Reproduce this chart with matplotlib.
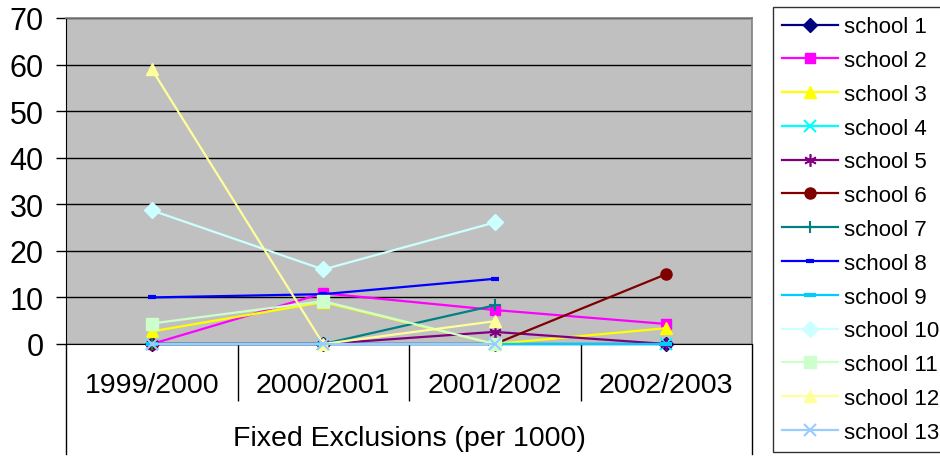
import numpy as np
import matplotlib
matplotlib.use("Agg")
import matplotlib.pyplot as plt
from matplotlib.lines import Line2D

plt.rcParams['font.family'] = ['Liberation Sans', 'DejaVu Sans']

years = ["1999/2000", "2000/2001", "2001/2002", "2002/2003"]
schools = [f"school {i}" for i in range(1, 14)]
nan = np.nan

school_1 = [0, 0, 0, 0]
school_2 = [0, 10.9, 7.3, 4.3]
school_3 = [2.7, 9.0, 0, 3.4]
school_4 = [0, 0, 0, 0]
school_5 = [0, 0, 2.6, 0]
school_6 = [0, 0, 0, 15.0]
school_7 = [0, 0, 8.3, nan]
school_8 = [10.0, 10.7, 14.0, nan]
school_9 = [0, 0, 0, 0]
school_10 = [28.7, 16.0, 26.1, nan]
school_11 = [4.4, 9.2, 0, nan]
school_12 = [59.0, 0, 4.9, nan]
school_13 = [0, 0, 0, nan]

series = [school_1, school_2, school_3, school_4, school_5, school_6, school_7,
          school_8, school_9, school_10, school_11, school_12, school_13]

colors = ["#000080", "#FF00FF", "#FFFF00", "#00FFFF", "#800080", "#800000",
          "#008080", "#0000FF", "#00CCFF", "#CCFFFF", "#CCFFCC", "#FFFF99",
          "#99CCFF"]
markers = ["D", "s", "^", "x", (6, 2, 0), "o", "+", "_", "_", "D", "s", "^", "x"]
msizes = [7, 7, 8, 8, 9, 8, 9, 6, 9, 8, 8, 9, 9]
mews = [1, 1, 1, 1.5, 1.2, 1, 1.5, 3, 3, 1, 1, 1, 1.5]

fig = plt.figure(figsize=(9.4, 4.6), dpi=100)
ax = fig.add_axes([66/940, 1 - 345/460, (752 - 66)/940, (345 - 19)/460])
ax.set_facecolor("#C0C0C0")

x = np.arange(len(years))
for vals, name, c, m, ms, mew in zip(series, schools, colors, markers, msizes, mews):
    ax.plot(x, vals, color=c, marker=m, markersize=ms, markeredgewidth=mew,
            markerfacecolor=c, markeredgecolor=c, linewidth=1.6, label=name,
            clip_on=False, zorder=3)

ax.set_xlim(-0.5, 3.5)
ax.set_ylim(0, 70)
ax.set_yticks(np.arange(0, 71, 10))
ax.yaxis.grid(True, color="black", linewidth=1.0)
ax.set_axisbelow(True)

for side in ("top", "right"):
    ax.spines[side].set_color("#808080")
    ax.spines[side].set_linewidth(1.2)
ax.spines["left"].set_color("black")
ax.spines["bottom"].set_color("black")

ax.tick_params(axis="y", direction="out", length=7, width=1, pad=9,
               labelsize=22)

# category labels between boundary ticks
ax.set_xticks(x)
ax.set_xticklabels(years, fontsize=20.5)
ax.tick_params(axis="x", which="major", length=0, pad=20)
ax.set_xticks([0.5, 1.5, 2.5], minor=True)
ax.tick_params(axis="x", which="minor", direction="out", length=41, width=1,
               color="black")
ax.set_xlabel("Fixed Exclusions (per 1000)", fontsize=20.5, labelpad=14)

# outer frame of the category axis
trans = ax.get_xaxis_transform()
drop = -(455 - 345) / (345 - 19)
for xv in (-0.5, 3.5):
    ax.add_line(Line2D([xv, xv], [0, drop], transform=trans, color="black",
                       linewidth=1, clip_on=False))

leg = fig.legend(loc="upper left", bbox_to_anchor=(773/940, 1 - 8/460),
                 fontsize=16, frameon=True, fancybox=False, handlelength=2.5,
                 handletextpad=0.28, labelspacing=0.575, borderpad=0.42,
                 borderaxespad=0)
leg.get_frame().set_edgecolor("black")
leg.get_frame().set_linewidth(1.0)

fig.savefig("out.png", dpi=100)
